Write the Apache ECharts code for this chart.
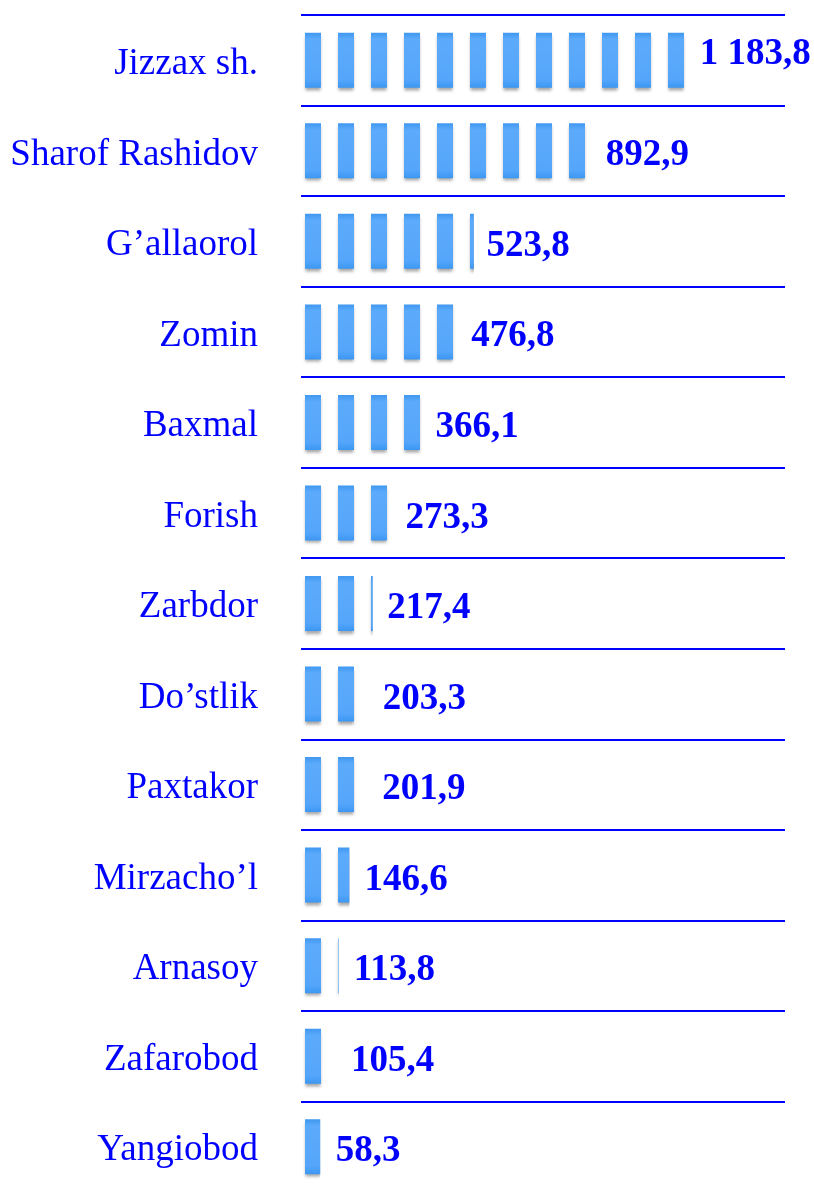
<!DOCTYPE html>
<html>
<head>
  <meta charset="utf-8" />
  <title>Tumanlar</title>
  <script src="https://cdn.jsdelivr.net/npm/echarts@6/dist/echarts.min.js"></script>
  <style>
    html, body { margin: 0; padding: 0; background: #fff; overflow: hidden; }
    #chart { width: 814px; height: 1192px; }
  </style>
</head>
<body>
<div id="chart"></div>
<script type="text/javascript">
    // districts, top to bottom
    var districts = ['Jizzax sh.', 'Sharof Rashidov', 'G\u2019allaorol', 'Zomin', 'Baxmal', 'Forish',
        'Zarbdor', 'Do\u2019stlik', 'Paxtakor', 'Mirzacho\u2019l', 'Arnasoy', 'Zafarobod', 'Yangiobod'];
    var values = [1183.8, 892.9, 523.8, 476.8, 366.1, 273.3, 217.4, 203.3, 201.9, 146.6, 113.8, 105.4, 58.3];

    var blue = '#0000ff';
    var serif = "'Liberation Serif', 'Times New Roman', serif";

    // "1 183,8" style
    function fmt(v) {
        var parts = v.toFixed(1).split('.');
        var intPart = parts[0].replace(/\B(?=(\d{3})+(?!\d))/g, ' ');
        return intPart + ',' + parts[1];
    }

    // invisible bars only carry the value labels
    var labelData = values.map(function (v, i) {
        var item = { value: v };
        if (i === 0) {
            item.label = { offset: [0, -6] };
        }
        return item;
    });

    var myChart = echarts.init(document.getElementById('chart'));
    var option = {
        animation: false,
        grid: {
            left: 301,
            top: 15,
            width: 484,
            bottom: 0
        },
        xAxis: [{
            type: 'value',
            min: 0,
            max: 1466.7,
            show: false
        }, {
            type: 'value',
            min: 0,
            max: 1496.6,
            show: false
        }],
        yAxis: {
            type: 'category',
            inverse: true,
            data: districts,
            axisLine: { show: false },
            axisTick: { show: false },
            axisLabel: {
                margin: 43,
                color: blue,
                fontFamily: serif,
                fontSize: 37,
                verticalAlign: 'top',
                lineHeight: 8
            },
            splitLine: {
                show: true,
                lineStyle: { color: blue, width: 2 }
            }
        },
        series: [{
            type: 'pictorialBar',
            data: values,
            symbol: 'rect',
            symbolSize: [16, 55],
            symbolRepeat: true,
            symbolClip: true,
            symbolMargin: '8.5!',
            symbolBoundingData: 1200,
            symbolOffset: [-4.5, 0],
            symbolPosition: 'start',
            itemStyle: {
                color: new echarts.graphic.LinearGradient(0, 0, 0, 1, [
                    { offset: 0, color: '#3f98f0' },
                    { offset: 0.12, color: '#5caafb' },
                    { offset: 0.85, color: '#55a6fb' },
                    { offset: 1, color: '#3c97f2' }
                ]),
                shadowColor: 'rgba(0,0,0,0.35)',
                shadowBlur: 3,
                shadowOffsetY: 3
            }
        }, {
            type: 'bar',
            xAxisIndex: 1,
            data: labelData,
            barWidth: 10,
            itemStyle: { color: 'rgba(0,0,0,0)' },
            silent: true,
            label: {
                show: true,
                position: 'right',
                distance: 16,
                offset: [0, 5],
                color: blue,
                fontFamily: serif,
                fontWeight: 'bold',
                fontSize: 37,
                formatter: function (p) { return fmt(p.value); }
            }
        }]
    };
    myChart.setOption(option);
</script>
</body>
</html>
